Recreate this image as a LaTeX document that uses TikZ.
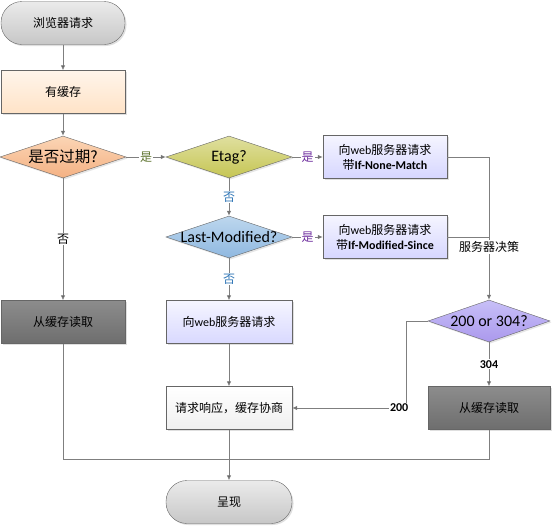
\documentclass[tikz,border=0pt]{standalone}
\usepackage{fontspec}
\setmainfont{Carlito}
\newfontfamily\cjk{Noto Sans CJK SC}
\usetikzlibrary{shapes.geometric, shadows, arrows.meta}
\newcommand\zh[1]{{\cjk #1}}
\definecolor{lineC}{HTML}{7F7F7F}
\definecolor{yesG}{HTML}{5F7530}
\definecolor{yesP}{HTML}{7030A0}
\definecolor{noB}{HTML}{2E75B6}
\definecolor{orgTop}{HTML}{FBD5B5}
\definecolor{orgBot}{HTML}{F4B183}
\definecolor{bluTop}{HTML}{BDD7EE}
\definecolor{bluBot}{HTML}{8FB8E0}

\begin{document}
\begin{tikzpicture}[x=1pt, y=-1pt,
    box/.style={draw=black!60, minimum width=124pt, minimum height=43pt, inner sep=0pt,
                align=center, font=\fontsize{12}{15}\selectfont,
                drop shadow={shadow xshift=1.5pt, shadow yshift=-1.5pt, fill=black!25}},
    term/.style={box, rounded corners=21pt, top color=black!8, bottom color=black!22},
    decision/.style={diamond, draw=black!60, minimum width=126pt, minimum height=42pt, inner sep=0pt,
                drop shadow={shadow xshift=1.5pt, shadow yshift=-1.5pt, fill=black!20}},
    dtext/.style={font=\fontsize{16}{18}\selectfont},
    arr/.style={draw=lineC, line width=0.8pt, -{Latex[length=5pt, width=4.5pt, fill=black!75]}},
    ln/.style={draw=lineC, line width=0.8pt},
    lbl/.style={fill=white, inner sep=1pt, font=\fontsize{12}{14}\selectfont}]
  \useasboundingbox (0,0) rectangle (554,528);

  % left column
  \node[term] (start) at (63,23) {\zh{浏览器请求}};
  \node[box, top color=orange!8, bottom color=orange!22] (cache) at (63,92) {\zh{有缓存}};
  \node[decision, top color=orgTop, bottom color=orgBot,
        label={[dtext]center:\zh{\fontsize{15.5}{17}\selectfont 是否过期?}}] (expired) at (63,157) {};
  \node[box, top color=black!45, bottom color=black!57] (readL) at (63,322) {\zh{从缓存读取}};

  % middle column
  \node[decision, top color=olive!25, bottom color=olive!45,
        label={[dtext]center:Etag?}] (etag) at (229,157) {};
  \node[decision, top color=bluTop, bottom color=bluBot,
        label={[dtext]center:Last-Modified?}] (lastmod) at (229,237) {};
  \node[box, minimum width=126pt, top color=blue!4, bottom color=blue!15] (webreq) at (229,322) {\zh{向}web\zh{服务器请求}};
  \node[box, minimum width=126pt, top color=white, bottom color=black!6] (resp) at (229,408) {\zh{请求响应，缓存协商}};
  \node[term, minimum width=126pt] (show) at (229,502) {\zh{呈现}};

  % right column
  \node[box, top color=blue!4, bottom color=blue!16] (nonematch) at (385,157)
        {\zh{向}web\zh{服务器请求}\\\zh{带}\textbf{If-None-Match}};
  \node[box, top color=blue!4, bottom color=blue!16] (modsince) at (385,237)
        {\zh{向}web\zh{服务器请求}\\\zh{带}\textbf{If-Modified-Since}};
  \node[decision, minimum width=122pt, top color=violet!25!blue!25, bottom color=violet!35!blue!40,
        label={[dtext]center:200 or 304?}] (decide) at (489,321) {};
  \node[box, minimum width=122pt, top color=black!45, bottom color=black!57] (read304) at (489,408) {\zh{从缓存读取}};
  \coordinate (merge) at (229,459);

  \draw[arr] (start) -- (cache);
  \draw[arr] (cache) -- (expired);
  \draw[arr] (expired.east) -- node[lbl, text=yesG] (yes1) {\zh{是}} (etag.west);
  \draw[arr] (expired.south) -- node[lbl] (no1) {\zh{否}} (readL.north);
  \draw[arr] (etag.east) -- node[lbl, text=yesP] (yes2) {\zh{是}} (nonematch.west);
  \draw[arr] (etag.south) -- node[lbl, text=noB] (no2) {\zh{否}} (lastmod.north);
  \draw[arr] (lastmod.east) -- node[lbl, text=yesP] (yes3) {\zh{是}} (modsince.west);
  \draw[arr] (lastmod.south) -- node[lbl, text=noB] (no3) {\zh{否}} (webreq.north);
  \draw[arr] (webreq) -- (resp);
  \draw[arr] (resp) -- (show);
  \draw[arr] (nonematch.east) -| (decide.north);
  \draw[ln] (modsince.east) -- (decide.north |- modsince.east);
  \node[lbl] (server) at (489,247) {\zh{服务器决策}};
  \draw[arr] (decide.south) -- node[lbl, font=\fontsize{12}{14}\selectfont\bfseries] (c304) {304} (read304.north);
  \draw[arr] (decide.west) -- (406,321) |- node[lbl, pos=0.53, font=\fontsize{12}{14}\selectfont\bfseries] (c200) {200} (resp.east);
  \draw[ln] (readL.south) |- (merge);
  \draw[ln] (read304.south) |- (merge);
\end{tikzpicture}
\end{document}
